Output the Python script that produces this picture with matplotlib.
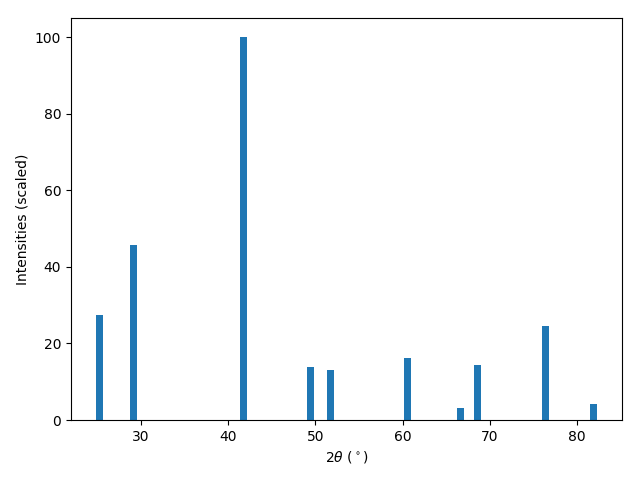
import matplotlib
matplotlib.use("Agg")
import matplotlib.pyplot as plt

two_theta = [25.25, 29.15, 41.77, 49.45, 51.74, 60.57, 66.65, 68.6, 76.4, 81.86]
intensities = [27.5, 45.7, 100.0, 13.9, 13.1, 16.2, 3.1, 14.4, 24.6, 4.2]

fig, ax = plt.subplots(figsize=(6.4, 4.8), dpi=100)
ax.bar(two_theta, intensities, width=0.8)
ax.set_xlabel(r'2$\theta$ ($^\circ$)')
ax.set_ylabel('Intensities (scaled)')
fig.subplots_adjust(left=71/640, right=622/640, top=1-18/480, bottom=1-420/480)
fig.savefig('out.png')
